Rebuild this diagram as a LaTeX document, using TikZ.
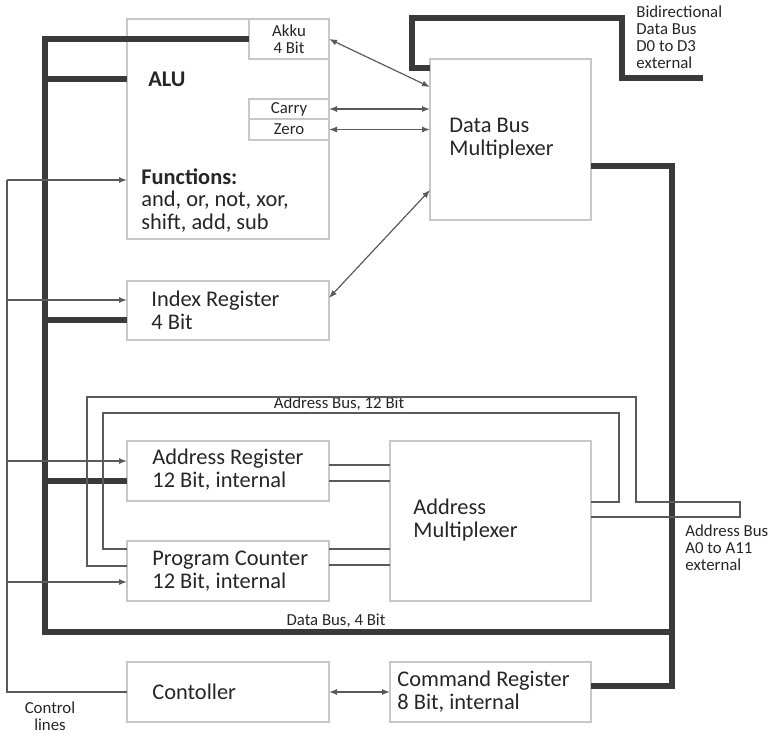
\documentclass[tikz,border=0pt]{standalone}
\usepackage{fontspec}
\setmainfont{Carlito}
\usepackage{tikz}
\usetikzlibrary{arrows.meta,positioning,calc}
\definecolor{txt}{HTML}{262626}
\definecolor{boxgray}{HTML}{C8C8C8}
\definecolor{busgray}{HTML}{3A3A3A}
\definecolor{wiregray}{HTML}{5A5A5A}

\begin{document}
\begin{tikzpicture}[x=0.5pt,y=-0.5pt,
  every node/.style={font=\fontsize{11.2}{11.4}\selectfont,text=txt},
  bx/.style={draw=boxgray,line width=0.6pt,anchor=north west,outer sep=0pt,inner sep=0pt},
  tx/.style={anchor=west,align=left,inner sep=0pt},
  sm/.style={font=\fontsize{8.4}{8.6}\selectfont,inner sep=0pt},
  bus/.style={line width=2.6pt,draw=busgray},
  wr/.style={line width=0.6pt,draw=wiregray},
  >={Latex[length=4pt,width=3pt]}]
 \useasboundingbox (0,0) rectangle (771,734);
 \node[bx,minimum width=101pt,minimum height=110pt] (alu) at (127,19) {};
 \node[bx,sm,align=center,minimum width=40pt,minimum height=20pt] (akku) at (249,19) {Akku\\4 Bit};
 \node[bx,sm,minimum width=40pt,minimum height=10pt] (carry) at (249,99) {Carry};
 \node[bx,sm,minimum width=40pt,minimum height=10.5pt] (zero) at (249,119) {Zero};
 \node[bx,minimum width=80.5pt,minimum height=80.5pt] (dbmux) at (430,59) {};
 \node[bx,minimum width=101pt,minimum height=29.5pt] (idx) at (127,281) {};
 \node[bx,minimum width=101pt,minimum height=30pt] (areg) at (127,441) {};
 \node[bx,minimum width=101pt,minimum height=30pt] (pc) at (127,541) {};
 \node[bx,minimum width=100.5pt,minimum height=80pt] (amux) at (390,441) {};
 \node[bx,minimum width=101pt,minimum height=30pt] (ctrl) at (127,662) {};
 \node[bx,minimum width=100.5pt,minimum height=30pt] (creg) at (390,662) {};
 \node[tx,font=\fontsize{11.2}{11.4}\selectfont\bfseries] (alut) at (148,79) {ALU};
 \node[tx,anchor=north west] (fun) at (141,168) {\textbf{Functions:}\\and, or, not, xor,\\shift, add, sub};
 \node[tx] (dbmuxt) at (449,139) {Data Bus\\Multiplexer};
 \node[tx] (idxt) at (151,310) {Index Register\\4 Bit};
 \node[tx] (aregt) at (152,470) {Address Register\\12 Bit, internal};
 \node[tx] (pct) at (152,571) {Program Counter\\12 Bit, internal};
 \node[tx] (amuxt) at (413,520) {Address\\Multiplexer};
 \node[tx] (ctrlt) at (152,692) {Contoller};
 \node[tx] (cregt) at (397,692) {Command Register\\8 Bit, internal};
 \node[sm,anchor=north west,align=left] (dlbl) at (636,5) {Bidirectional\\Data Bus\\D0 to D3\\external};
 \node[sm,anchor=north west,align=left] (albl) at (685,524) {Address Bus\\A0 to A11\\external};
 \node[sm,align=center] (clbl) at (50,716) {Control\\lines};
 \node[sm] (dblbl) at (336,621) {Data Bus, 4 Bit};
 \node[sm] (ablbl) at (339,404) {Address Bus, 12 Bit};
 \coordinate (bl) at (45,632);
 \coordinate (br) at (672,632);
 \coordinate (dext) at (703,78);
 \draw[bus] (akku.west) -| (bl) -- (br) |- (dbmux.east |- 0,166);
 \draw[bus] (br) |- ([yshift=3pt]creg.east);
 \foreach \n/\y in {alu/79,idx/320,areg/481}
   \draw[bus] (45,\y) -- (\n.west |- 0,\y);
 \draw[bus] (dbmux.west |- 0,68) -- (412,68) -- (412,18) -- (622,18) -- (622,78) -- (dext);
 \draw[wr] (7,180) -- (7,0 |- ctrl.west) -- (ctrl.west);
 \foreach \n/\y in {alu/180,idx/300,areg/461,pc/582}
   \draw[wr,->] (7,\y) -- (\n.west |- 0,\y);
 \draw[wr,<->] (akku.east) -- (dbmux.west |- 0,87);
 \draw[wr,<->] (carry.east) -- (carry.east -| dbmux.west);
 \draw[wr,<->] (zero.east) -- (zero.east -| dbmux.west);
 \draw[wr,<->] (idx.east |- 0,298) -- (dbmux.west |- 0,190);
 \draw[wr,<->] (ctrl.east) -- (creg.west);
 \foreach \a/\b/\y in {areg/amux/465,areg/amux/481,pc/amux/549,pc/amux/565}
   \draw[wr] (\a.east |- 0,\y) -- (\b.west |- 0,\y);
 \draw[wr] (pc.west |- 0,566) -- (87,566) -- (87,397) -- (636,397) -- (636,502) -- (740,502) -- (740,517) -- (amux.east |- 0,517);
 \draw[wr] (pc.west |- 0,549) -- (103,549) -- (103,413) -- (619,413) -- (619,502) -- (amux.east |- 0,502);
\end{tikzpicture}
\end{document}
